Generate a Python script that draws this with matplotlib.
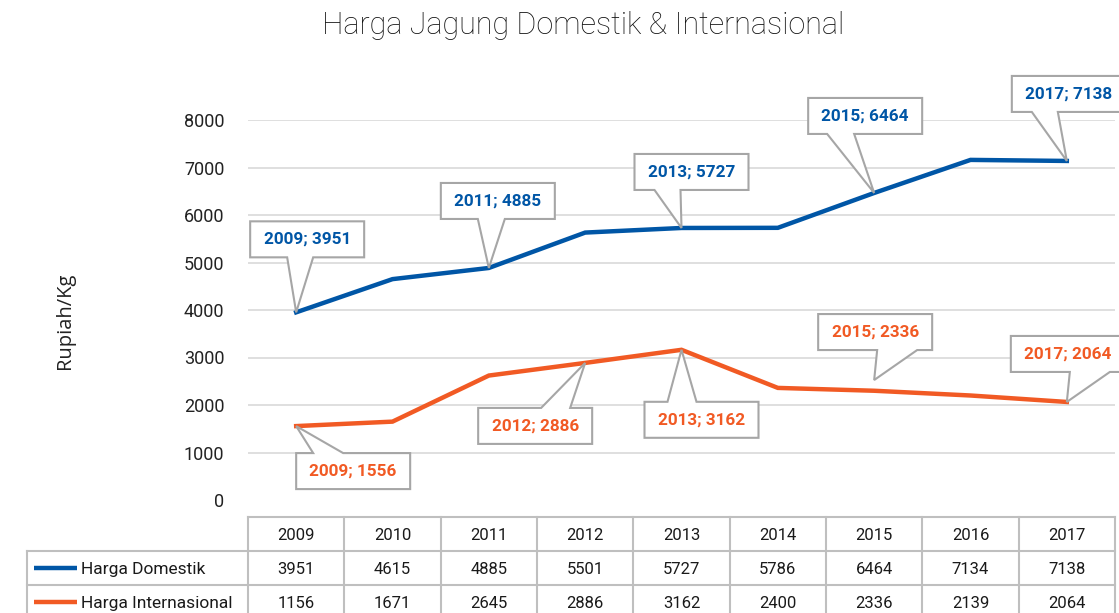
import matplotlib
matplotlib.use("Agg")
import matplotlib.pyplot as plt
from matplotlib.patches import Polygon
from matplotlib.transforms import IdentityTransform, blended_transform_factory

plt.rcParams['font.family'] = ['Roboto', 'DejaVu Sans']

# Data
years = ["2009", "2010", "2011", "2012", "2013", "2014", "2015", "2016", "2017"]
series_names = ["Harga Domestik", "Harga Internasional"]
# values as drawn in the lines
domestik_line = [3951, 4650, 4885, 5630, 5727, 5730, 6464, 7160, 7138]
internasional_line = [1556, 1650, 2620, 2886, 3162, 2360, 2300, 2200, 2064]
# values printed in the data table
domestik_table = [3951, 4615, 4885, 5501, 5727, 5786, 6464, 7134, 7138]
internasional_table = [1156, 1671, 2645, 2886, 3162, 2400, 2336, 2139, 2064]
# callout labels: (year index, value shown)
domestik_callouts = [(0, 3951), (2, 4885), (4, 5727), (6, 6464), (8, 7138)]
internasional_callouts = [(0, 1556), (3, 2886), (4, 3162), (6, 2336), (8, 2064)]

blue = "#0056A6"
orange = "#F15A24"
grid_c = "#d9d9d9"
edge_c = "#a6a6a6"

W, H = 1119, 613
fig = plt.figure(figsize=(W / 100, H / 100), dpi=100)
ax = fig.add_axes([248 / W, 113 / H, 867 / W, 380 / H])

x = list(range(len(years)))
ax.plot(x, domestik_line, color=blue, lw=3.2, solid_joinstyle="miter", zorder=3)
ax.plot(x, internasional_line, color=orange, lw=3.2, solid_joinstyle="miter", zorder=3)

ax.set_xlim(-0.5, 8.5)
ax.set_ylim(0, 8000)
ax.set_yticks(range(0, 8001, 1000))
for v in range(1000, 8001, 1000):
    ax.axhline(v, color=grid_c, lw=1.2, zorder=1)
ax.set_xticks([])
ax.tick_params(axis="y", length=0, pad=17, labelsize=13, labelcolor="#222222")
for s in ax.spines.values():
    s.set_visible(False)

fig.text(65 / W, 1 - 321 / H, "Rupiah/Kg", rotation=90, ha="center", va="center",
         fontsize=14.5, color="#222222", family=["Open Sans", "DejaVu Sans"])
fig.text(583 / W, 1 - 26 / H, "Harga Jagung Domestik & Internasional", ha="center",
         va="center", fontsize=22, color="#111111", fontweight="light")

# Callouts (offsets in pixels, y pointing down)
# dx, dy: box center relative to pointer tip; b1, b2: pointer base x relative to box center
dom_geo = [(11, -73, -20, 6), (9, -67, -20, 7), (10, -56, -37, -11),
           (-9, -77, -38, -11), (2, -67, -37, -11)]
int_geo = [(57, 45, -40, -10), (-50, 63, 6, 35), (20, 70, -34, -5),
           (1, -48, 2, 42), (1, -48, 2, 42)]
int_tip_shift = [0, 0, 0, -9, 0]

bw, bh = 114, 36


def callout(ix, val, geo, color, tip_dy=0):
    dx, dy, b1, b2 = geo
    tx, ty = ax.transData.transform((ix, val))
    ty = ty + tip_dy * -1
    ty_down = H - ty
    cx, cy = tx + dx, ty_down + dy
    l, r = cx - bw / 2, cx + bw / 2
    t, b = cy - bh / 2, cy + bh / 2
    if dy < 0:
        # box above point, pointer from bottom edge
        pts = [(l, t), (r, t), (r, b), (cx + b2, b), (tx, ty_down), (cx + b1, b), (l, b)]
    else:
        # box below point, pointer from top edge
        pts = [(l, t), (cx + b1, t), (tx, ty_down), (cx + b2, t), (r, t), (r, b), (l, b)]
    pts = [(px, H - py) for px, py in pts]
    poly = Polygon(pts, closed=True, facecolor="white", edgecolor=edge_c, lw=1.5,
                   transform=IdentityTransform(), zorder=5, clip_on=False)
    fig.add_artist(poly)
    fig.text(cx / W, 1 - cy / H, f"{years[ix]}; {val}", ha="center", va="center",
             fontsize=12.3, fontweight="bold", color=color, zorder=6)


for (ix, val), g in zip(domestik_callouts, dom_geo):
    callout(ix, val, g, blue)
for (ix, val), g, sh in zip(internasional_callouts, int_geo, int_tip_shift):
    callout(ix, val, g, orange, sh)

# Data table under the axes
tr = blended_transform_factory(ax.transData, ax.transAxes)
ax_h = 380
row_y = [(-17) / ax_h, (-51) / ax_h, (-85) / ax_h, (-119) / ax_h]
left_x = -0.5 - 221 / (867 / 9)
line_kw = dict(color="#bfbfbf", lw=1.5, transform=tr, clip_on=False, zorder=2)

ax.plot([-0.5, 8.5], [row_y[0], row_y[0]], **line_kw)
ax.plot([left_x, 8.5], [row_y[1], row_y[1]], **line_kw)
ax.plot([left_x, 8.5], [row_y[2], row_y[2]], **line_kw)
for i in range(len(years) + 1):
    ax.plot([i - 0.5, i - 0.5], [row_y[0], row_y[3]], **line_kw)
ax.plot([left_x, left_x], [row_y[1], row_y[3]], **line_kw)

for i, yr in enumerate(years):
    ax.text(i, (row_y[0] + row_y[1]) / 2 - 0.004, yr, ha="center", va="center", fontsize=12,
            color="#1a1a1a", transform=tr, clip_on=False)
    ax.text(i, (row_y[1] + row_y[2]) / 2 - 0.004, str(domestik_table[i]), ha="center",
            va="center", fontsize=12, color="#1a1a1a", transform=tr, clip_on=False)
    ax.text(i, (row_y[2] + row_y[3]) / 2 - 0.004, str(internasional_table[i]), ha="center",
            va="center", fontsize=12, color="#1a1a1a", transform=tr, clip_on=False)

px = 867 / 9
for r, (name, col) in enumerate(zip(series_names, [blue, orange])):
    ymid = (row_y[r + 1] + row_y[r + 2]) / 2
    ax.plot([left_x + 7 / px, left_x + 50 / px], [ymid, ymid], color=col, lw=3.2,
            transform=tr, clip_on=False, solid_capstyle="butt")
    ax.text(left_x + 54 / px, ymid - 0.004, name, ha="left", va="center", fontsize=12.5,
            color="#1a1a1a", transform=tr, clip_on=False)

fig.savefig("out.png", dpi=100)
